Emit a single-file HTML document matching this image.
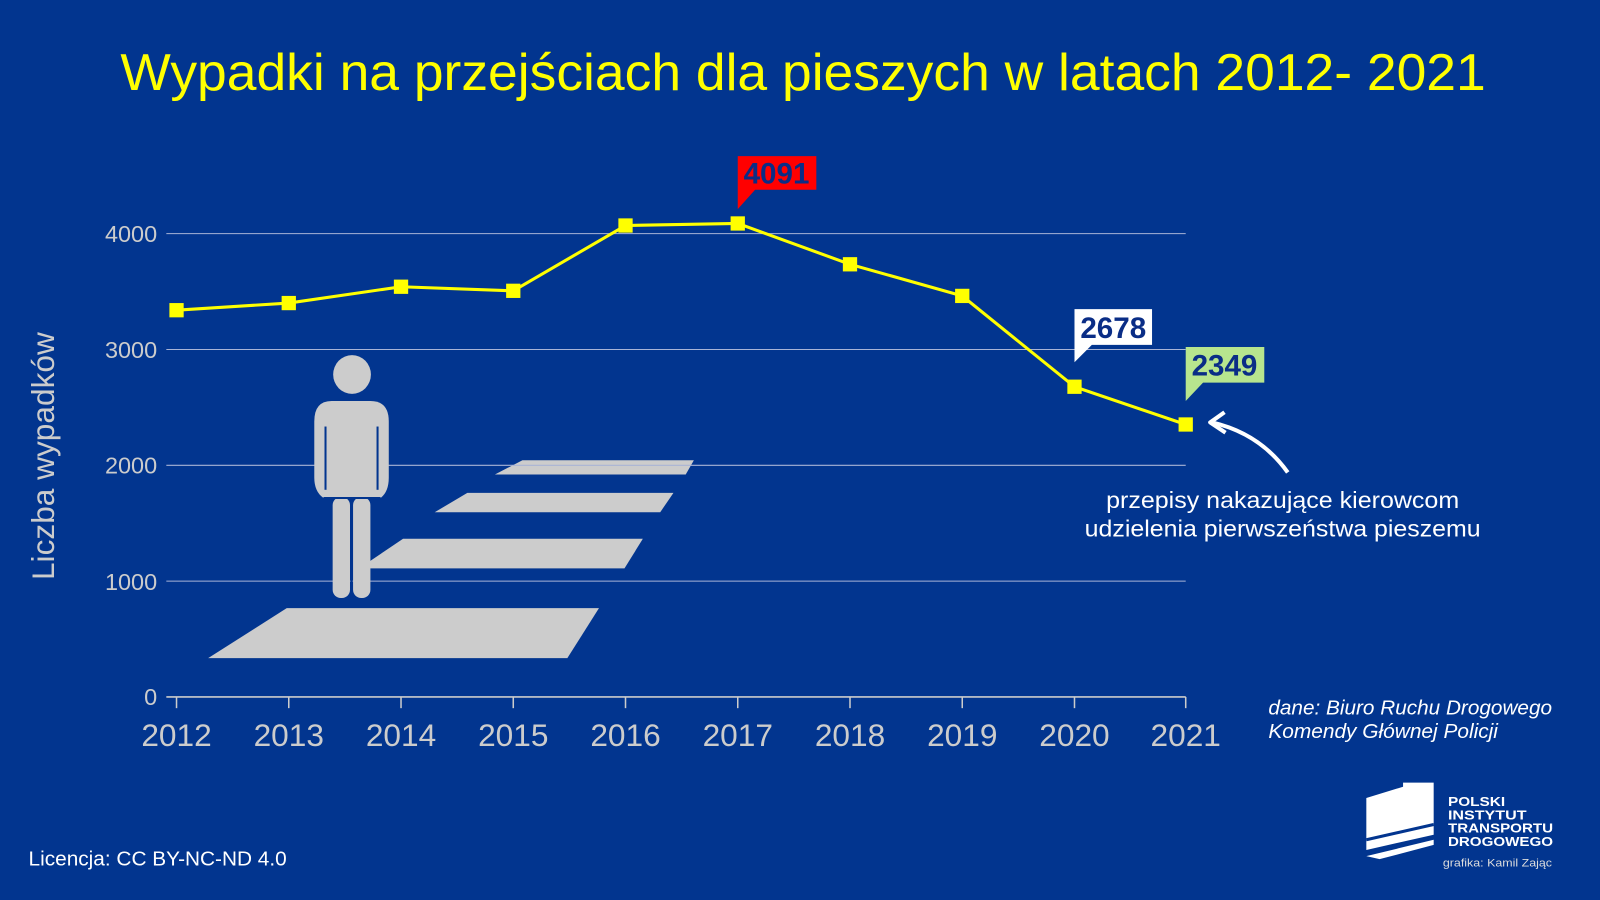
<!DOCTYPE html>
<html><head><meta charset="utf-8"><style>
html,body{margin:0;padding:0;background:#02358f;}
svg{display:block}
</style></head><body>
<svg width="1600" height="900" viewBox="0 0 1568 882" preserveAspectRatio="none" xmlns="http://www.w3.org/2000/svg" font-family="Liberation Sans, sans-serif">
<rect width="1568" height="882" fill="#02358f"/>
<text x="787" y="88" text-anchor="middle" fill="#ffff00" font-size="51" textLength="1338" lengthAdjust="spacingAndGlyphs">Wypadki na przejściach dla pieszych w latach 2012- 2021</text>
<g fill="#cccccc">
<polygon points="485,465 512,451 680,451 672,465"/>
<polygon points="426,502 458,483 660,483 647,502"/>
<polygon points="352,557 395,528 630,528 612,557"/>
<polygon points="204,645 281,596 587,596 556,645"/>
</g>
<g stroke="#a9b4d6" stroke-width="1">
<line x1="163" y1="229" x2="1162" y2="229"/>
<line x1="163" y1="342.5" x2="1162" y2="342.5"/>
<line x1="163" y1="456" x2="1162" y2="456"/>
<line x1="163" y1="569.5" x2="1162" y2="569.5"/>
</g>
<g fill="#cccccc">
<ellipse cx="345" cy="367" rx="18.5" ry="19"/>
<path d="M325,393 H363 Q381,393 381,413 V468 Q381,482 373,488 H317 Q308,482 308,468 V413 Q308,393 325,393 Z"/>
<rect x="326" y="487" width="17" height="99" rx="8"/>
<rect x="346" y="487" width="17" height="99" rx="8"/>
</g>
<g stroke="#02358f" stroke-width="2"><line x1="319" y1="418" x2="319" y2="480"/><line x1="370" y1="418" x2="370" y2="480"/><line x1="344.5" y1="490" x2="344.5" y2="586"/><line x1="317" y1="488" x2="373" y2="488"/></g>
<g stroke="#cccccc" stroke-width="1.5">
<line x1="163" y1="683" x2="1162" y2="683"/>
<line x1="173" y1="683" x2="173" y2="694"/><line x1="283" y1="683" x2="283" y2="694"/><line x1="393" y1="683" x2="393" y2="694"/><line x1="503" y1="683" x2="503" y2="694"/><line x1="613" y1="683" x2="613" y2="694"/><line x1="723" y1="683" x2="723" y2="694"/><line x1="833" y1="683" x2="833" y2="694"/><line x1="943" y1="683" x2="943" y2="694"/><line x1="1053" y1="683" x2="1053" y2="694"/><line x1="1162" y1="683" x2="1162" y2="694"/>
</g>
<g fill="#cccccc" font-size="23" text-anchor="end">
<text x="154" y="237">4000</text><text x="154" y="351">3000</text><text x="154" y="464">2000</text><text x="154" y="578">1000</text><text x="154" y="691">0</text>
</g>
<g fill="#cccccc" font-size="31" text-anchor="middle">
<text x="173" y="731">2012</text><text x="283" y="731">2013</text><text x="393" y="731">2014</text><text x="503" y="731">2015</text><text x="613" y="731">2016</text><text x="723" y="731">2017</text><text x="833" y="731">2018</text><text x="943" y="731">2019</text><text x="1053" y="731">2020</text><text x="1162" y="731">2021</text>
</g>
<text transform="translate(53,447) rotate(-90)" text-anchor="middle" fill="#cccccc" font-size="31">Liczba wypadków</text>
<polyline fill="none" stroke="#ffff00" stroke-width="3" points="173,304 283,297 393,281 503,285 613,221 723,219 833,259 943,290 1053,379 1162,416"/>
<g fill="#ffff00">
<rect x="166" y="297" width="14" height="14"/><rect x="276" y="290" width="14" height="14"/><rect x="386" y="274" width="14" height="14"/><rect x="496" y="278" width="14" height="14"/><rect x="606" y="214" width="14" height="14"/><rect x="716" y="212" width="14" height="14"/><rect x="826" y="252" width="14" height="14"/><rect x="936" y="283" width="14" height="14"/><rect x="1046" y="372" width="14" height="14"/><rect x="1155" y="409" width="14" height="14"/>
</g>
<path d="M723,153 H800 V186 H740 L723,205 Z" fill="#ff0000"/>
<text x="761" y="180" text-anchor="middle" font-weight="bold" font-size="29" fill="#0a2d86">4091</text>
<path d="M1053,303 H1129 V338 H1070 L1053,355 Z" fill="#ffffff"/>
<text x="1091" y="331" text-anchor="middle" font-weight="bold" font-size="29" fill="#0a2d86">2678</text>
<path d="M1162,340 H1239 V375 H1179 L1162,393 Z" fill="#b7e58e"/>
<text x="1200" y="368" text-anchor="middle" font-weight="bold" font-size="29" fill="#0a2d86">2349</text>
<path d="M1262,463 Q1235,425 1188,414" fill="none" stroke="#ffffff" stroke-width="4"/>
<path d="M1200,404 L1186,414 L1201,424" fill="none" stroke="#ffffff" stroke-width="4" stroke-linejoin="round"/>
<g fill="#ffffff" font-size="23" text-anchor="middle">
<text x="1257" y="498" textLength="346" lengthAdjust="spacingAndGlyphs">przepisy nakazujące kierowcom</text>
<text x="1257" y="526" textLength="388" lengthAdjust="spacingAndGlyphs">udzielenia pierwszeństwa pieszemu</text>
</g>
<g fill="#ffffff" font-size="19.5" font-style="italic">
<text x="1243" y="700" textLength="278" lengthAdjust="spacingAndGlyphs">dane: Biuro Ruchu Drogowego</text>
<text x="1243" y="723" textLength="225" lengthAdjust="spacingAndGlyphs">Komendy Głównej Policji</text>
</g>
<text x="28" y="848" fill="#ffffff" font-size="20" textLength="253" lengthAdjust="spacingAndGlyphs">Licencja: CC BY-NC-ND 4.0</text>
<path d="M1339,782 L1375,771 V767 H1405 V818 L1339,833 Z" fill="#ffffff"/>
<path d="M1339,823 L1405,808" stroke="#02358f" stroke-width="3"/>
<path d="M1339,839 L1405,823 V828 L1352,842 Z" fill="#ffffff"/>
<g fill="#ffffff" font-weight="bold" font-size="13">
<text x="1419" y="790" textLength="56" lengthAdjust="spacingAndGlyphs">POLSKI</text><text x="1419" y="803" textLength="77" lengthAdjust="spacingAndGlyphs">INSTYTUT</text><text x="1419" y="816" textLength="103" lengthAdjust="spacingAndGlyphs">TRANSPORTU</text><text x="1419" y="829" textLength="103" lengthAdjust="spacingAndGlyphs">DROGOWEGO</text>
</g>
<text x="1414" y="849" fill="#dddddd" font-size="10.5" textLength="107" lengthAdjust="spacingAndGlyphs">grafika: Kamil Zając</text>
</svg>
</body></html>
